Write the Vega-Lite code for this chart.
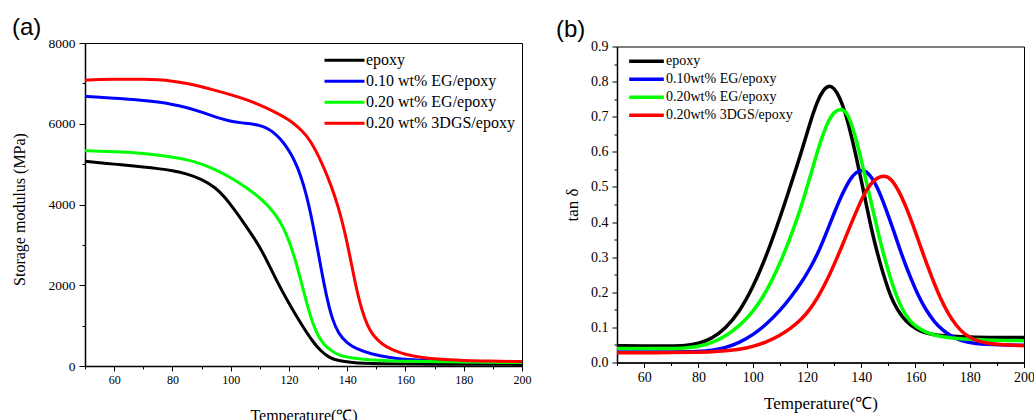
{
  "$schema": "https://vega.github.io/schema/vega-lite/v6.json",
  "background": "white",
  "padding": {"left": 10, "top": 15, "right": 5, "bottom": 0},
  "bounds": "flush",
  "center": true,
  "spacing": 95,
  "config": {
    "view": {"stroke": "black", "strokeWidth": 1},
    "axis": {
      "grid": false,
      "domainColor": "black",
      "domainWidth": 1.5,
      "tickColor": "black",
      "tickWidth": 1,
      "labelColor": "black",
      "titleColor": "black",
      "labelFont": "Liberation Serif",
      "titleFont": "Liberation Serif",
      "titleFontWeight": "normal",
      "labelFlush": false,
      "labelOverlap": false
    },
    "legend": {"labelFont": "Liberation Serif", "labelColor": "black"}
  },
  "resolve": {"scale": {"color": "independent", "x": "independent", "y": "independent"}},
  "hconcat": [
    {
      "width": 437,
      "height": 323,
      "title": {"text": "(a)", "anchor": "start", "frame": "group", "offset": -23, "baseline": "alphabetic", "dx": -73, "font": "Liberation Sans", "fontSize": 24, "fontWeight": "normal", "color": "black"},
      "data": {"values": [
        {"s": "epoxy", "t": 50, "v": 5070}, {"s": "epoxy", "t": 55, "v": 5035}, {"s": "epoxy", "t": 60, "v": 5000}, {"s": "epoxy", "t": 65, "v": 4965}, {"s": "epoxy", "t": 70, "v": 4930}, {"s": "epoxy", "t": 75, "v": 4890}, {"s": "epoxy", "t": 80, "v": 4840}, {"s": "epoxy", "t": 85, "v": 4760}, {"s": "epoxy", "t": 90, "v": 4630}, {"s": "epoxy", "t": 95, "v": 4410}, {"s": "epoxy", "t": 98, "v": 4180}, {"s": "epoxy", "t": 101, "v": 3900}, {"s": "epoxy", "t": 104, "v": 3600}, {"s": "epoxy", "t": 107, "v": 3280}, {"s": "epoxy", "t": 110, "v": 2950}, {"s": "epoxy", "t": 113, "v": 2530}, {"s": "epoxy", "t": 116, "v": 2080}, {"s": "epoxy", "t": 119, "v": 1680}, {"s": "epoxy", "t": 122, "v": 1300}, {"s": "epoxy", "t": 125, "v": 950}, {"s": "epoxy", "t": 128, "v": 620}, {"s": "epoxy", "t": 131, "v": 360}, {"s": "epoxy", "t": 134, "v": 200}, {"s": "epoxy", "t": 137, "v": 130}, {"s": "epoxy", "t": 141, "v": 85}, {"s": "epoxy", "t": 150, "v": 55}, {"s": "epoxy", "t": 170, "v": 45}, {"s": "epoxy", "t": 200, "v": 40},
        {"s": "0.10 wt% EG/epoxy", "t": 50, "v": 6680}, {"s": "0.10 wt% EG/epoxy", "t": 55, "v": 6655}, {"s": "0.10 wt% EG/epoxy", "t": 60, "v": 6630}, {"s": "0.10 wt% EG/epoxy", "t": 65, "v": 6610}, {"s": "0.10 wt% EG/epoxy", "t": 70, "v": 6580}, {"s": "0.10 wt% EG/epoxy", "t": 75, "v": 6540}, {"s": "0.10 wt% EG/epoxy", "t": 80, "v": 6480}, {"s": "0.10 wt% EG/epoxy", "t": 85, "v": 6400}, {"s": "0.10 wt% EG/epoxy", "t": 90, "v": 6290}, {"s": "0.10 wt% EG/epoxy", "t": 95, "v": 6160}, {"s": "0.10 wt% EG/epoxy", "t": 100, "v": 6060}, {"s": "0.10 wt% EG/epoxy", "t": 104, "v": 6020}, {"s": "0.10 wt% EG/epoxy", "t": 108, "v": 5990}, {"s": "0.10 wt% EG/epoxy", "t": 111, "v": 5940}, {"s": "0.10 wt% EG/epoxy", "t": 113, "v": 5870}, {"s": "0.10 wt% EG/epoxy", "t": 115, "v": 5770}, {"s": "0.10 wt% EG/epoxy", "t": 117, "v": 5630}, {"s": "0.10 wt% EG/epoxy", "t": 119, "v": 5450}, {"s": "0.10 wt% EG/epoxy", "t": 121, "v": 5220}, {"s": "0.10 wt% EG/epoxy", "t": 123, "v": 4920}, {"s": "0.10 wt% EG/epoxy", "t": 125, "v": 4500}, {"s": "0.10 wt% EG/epoxy", "t": 127, "v": 3950}, {"s": "0.10 wt% EG/epoxy", "t": 129, "v": 3220}, {"s": "0.10 wt% EG/epoxy", "t": 131, "v": 2430}, {"s": "0.10 wt% EG/epoxy", "t": 133, "v": 1680}, {"s": "0.10 wt% EG/epoxy", "t": 135, "v": 1130}, {"s": "0.10 wt% EG/epoxy", "t": 137, "v": 800}, {"s": "0.10 wt% EG/epoxy", "t": 140, "v": 560}, {"s": "0.10 wt% EG/epoxy", "t": 143, "v": 430}, {"s": "0.10 wt% EG/epoxy", "t": 148, "v": 300}, {"s": "0.10 wt% EG/epoxy", "t": 155, "v": 200}, {"s": "0.10 wt% EG/epoxy", "t": 160, "v": 160}, {"s": "0.10 wt% EG/epoxy", "t": 170, "v": 125}, {"s": "0.10 wt% EG/epoxy", "t": 180, "v": 105}, {"s": "0.10 wt% EG/epoxy", "t": 200, "v": 90},
        {"s": "0.20 wt% EG/epoxy", "t": 50, "v": 5330}, {"s": "0.20 wt% EG/epoxy", "t": 55, "v": 5320}, {"s": "0.20 wt% EG/epoxy", "t": 60, "v": 5310}, {"s": "0.20 wt% EG/epoxy", "t": 70, "v": 5270}, {"s": "0.20 wt% EG/epoxy", "t": 80, "v": 5180}, {"s": "0.20 wt% EG/epoxy", "t": 85, "v": 5110}, {"s": "0.20 wt% EG/epoxy", "t": 90, "v": 5010}, {"s": "0.20 wt% EG/epoxy", "t": 95, "v": 4860}, {"s": "0.20 wt% EG/epoxy", "t": 100, "v": 4670}, {"s": "0.20 wt% EG/epoxy", "t": 105, "v": 4440}, {"s": "0.20 wt% EG/epoxy", "t": 110, "v": 4170}, {"s": "0.20 wt% EG/epoxy", "t": 113, "v": 3960}, {"s": "0.20 wt% EG/epoxy", "t": 116, "v": 3690}, {"s": "0.20 wt% EG/epoxy", "t": 118, "v": 3440}, {"s": "0.20 wt% EG/epoxy", "t": 120, "v": 3110}, {"s": "0.20 wt% EG/epoxy", "t": 122, "v": 2680}, {"s": "0.20 wt% EG/epoxy", "t": 124, "v": 2150}, {"s": "0.20 wt% EG/epoxy", "t": 126, "v": 1580}, {"s": "0.20 wt% EG/epoxy", "t": 128, "v": 1080}, {"s": "0.20 wt% EG/epoxy", "t": 130, "v": 740}, {"s": "0.20 wt% EG/epoxy", "t": 132, "v": 530}, {"s": "0.20 wt% EG/epoxy", "t": 134.5, "v": 380}, {"s": "0.20 wt% EG/epoxy", "t": 137, "v": 270}, {"s": "0.20 wt% EG/epoxy", "t": 141, "v": 195}, {"s": "0.20 wt% EG/epoxy", "t": 150, "v": 140}, {"s": "0.20 wt% EG/epoxy", "t": 160, "v": 115}, {"s": "0.20 wt% EG/epoxy", "t": 180, "v": 95}, {"s": "0.20 wt% EG/epoxy", "t": 200, "v": 85},
        {"s": "0.20 wt% 3DGS/epoxy", "t": 50, "v": 7080}, {"s": "0.20 wt% 3DGS/epoxy", "t": 55, "v": 7095}, {"s": "0.20 wt% 3DGS/epoxy", "t": 60, "v": 7100}, {"s": "0.20 wt% 3DGS/epoxy", "t": 65, "v": 7105}, {"s": "0.20 wt% 3DGS/epoxy", "t": 70, "v": 7105}, {"s": "0.20 wt% 3DGS/epoxy", "t": 75, "v": 7090}, {"s": "0.20 wt% 3DGS/epoxy", "t": 80, "v": 7060}, {"s": "0.20 wt% 3DGS/epoxy", "t": 85, "v": 7000}, {"s": "0.20 wt% 3DGS/epoxy", "t": 90, "v": 6920}, {"s": "0.20 wt% 3DGS/epoxy", "t": 95, "v": 6820}, {"s": "0.20 wt% 3DGS/epoxy", "t": 100, "v": 6720}, {"s": "0.20 wt% 3DGS/epoxy", "t": 104, "v": 6630}, {"s": "0.20 wt% 3DGS/epoxy", "t": 108, "v": 6530}, {"s": "0.20 wt% 3DGS/epoxy", "t": 112, "v": 6400}, {"s": "0.20 wt% 3DGS/epoxy", "t": 116, "v": 6260}, {"s": "0.20 wt% 3DGS/epoxy", "t": 120, "v": 6100}, {"s": "0.20 wt% 3DGS/epoxy", "t": 123, "v": 5930}, {"s": "0.20 wt% 3DGS/epoxy", "t": 126, "v": 5720}, {"s": "0.20 wt% 3DGS/epoxy", "t": 129, "v": 5380}, {"s": "0.20 wt% 3DGS/epoxy", "t": 132, "v": 4920}, {"s": "0.20 wt% 3DGS/epoxy", "t": 134.5, "v": 4470}, {"s": "0.20 wt% 3DGS/epoxy", "t": 137, "v": 3930}, {"s": "0.20 wt% 3DGS/epoxy", "t": 139, "v": 3380}, {"s": "0.20 wt% 3DGS/epoxy", "t": 141, "v": 2700}, {"s": "0.20 wt% 3DGS/epoxy", "t": 143, "v": 1960}, {"s": "0.20 wt% 3DGS/epoxy", "t": 145, "v": 1380}, {"s": "0.20 wt% 3DGS/epoxy", "t": 147, "v": 990}, {"s": "0.20 wt% 3DGS/epoxy", "t": 149, "v": 740}, {"s": "0.20 wt% 3DGS/epoxy", "t": 152, "v": 540}, {"s": "0.20 wt% 3DGS/epoxy", "t": 155, "v": 410}, {"s": "0.20 wt% 3DGS/epoxy", "t": 160, "v": 280}, {"s": "0.20 wt% 3DGS/epoxy", "t": 165, "v": 210}, {"s": "0.20 wt% 3DGS/epoxy", "t": 175, "v": 150}, {"s": "0.20 wt% 3DGS/epoxy", "t": 185, "v": 125}, {"s": "0.20 wt% 3DGS/epoxy", "t": 200, "v": 110}
      ]},
      "mark": {"type": "line", "strokeWidth": 3, "interpolate": "basis"},
      "encoding": {
        "x": {
          "field": "t", "type": "quantitative",
          "scale": {"domain": [50, 200], "nice": false, "zero": false},
          "axis": {
            "title": "Temperature(℃)",
            "values": [50, 60, 70, 80, 90, 100, 110, 120, 130, 140, 150, 160, 170, 180, 190, 200],
            "format": "d",
            "labelExpr": "datum.value % 20 === 0 ? datum.label : ''",
            "tickSize": {"condition": {"test": "datum.value % 20 === 0", "value": 5}, "value": 3},
            "labelFontSize": 12,
            "labelPadding": 3,
            "titleFontSize": 16,
            "titleY": 41
          }
        },
        "y": {
          "field": "v", "type": "quantitative",
          "scale": {"domain": [0, 8000], "nice": false},
          "axis": {
            "title": "Storage modulus (MPa)",
            "values": [0, 1000, 2000, 3000, 4000, 5000, 6000, 7000, 8000],
            "format": "d",
            "labelExpr": "datum.value % 2000 === 0 ? datum.label : ''",
            "tickSize": {"condition": {"test": "datum.value % 2000 === 0", "value": 6}, "value": 3},
            "labelFontSize": 13.5,
            "labelPadding": 4,
            "titleFontSize": 16,
            "titleX": -58,
            "titleY": 166
          }
        },
        "color": {
          "field": "s", "type": "nominal",
          "scale": {"domain": ["epoxy", "0.10 wt% EG/epoxy", "0.20 wt% EG/epoxy", "0.20 wt% 3DGS/epoxy"], "range": ["#000000", "#0000ff", "#00ff00", "#ff0000"]},
          "legend": {
            "title": null, "orient": "none", "legendX": 238, "legendY": 7,
            "symbolType": "stroke", "symbolSize": 1600, "symbolStrokeWidth": 3,
            "labelFontSize": 16, "labelOffset": 0, "clipHeight": 20.5, "rowPadding": 0, "padding": 0
          }
        }
      }
    },
    {
      "width": 407,
      "height": 316,
      "title": {"text": "(b)", "anchor": "start", "frame": "group", "offset": -21, "baseline": "alphabetic", "dx": -61, "font": "Liberation Sans", "fontSize": 24, "fontWeight": "normal", "color": "black"},
      "data": {"values": [
        {"s": "epoxy", "t": 50, "v": 0.048}, {"s": "epoxy", "t": 60, "v": 0.047}, {"s": "epoxy", "t": 70, "v": 0.047}, {"s": "epoxy", "t": 75, "v": 0.048}, {"s": "epoxy", "t": 80, "v": 0.053}, {"s": "epoxy", "t": 85, "v": 0.068}, {"s": "epoxy", "t": 90, "v": 0.097}, {"s": "epoxy", "t": 95, "v": 0.143}, {"s": "epoxy", "t": 100, "v": 0.212}, {"s": "epoxy", "t": 105, "v": 0.302}, {"s": "epoxy", "t": 110, "v": 0.41}, {"s": "epoxy", "t": 114, "v": 0.505}, {"s": "epoxy", "t": 118, "v": 0.6}, {"s": "epoxy", "t": 121, "v": 0.68}, {"s": "epoxy", "t": 124, "v": 0.748}, {"s": "epoxy", "t": 126, "v": 0.776}, {"s": "epoxy", "t": 128, "v": 0.79}, {"s": "epoxy", "t": 130, "v": 0.782}, {"s": "epoxy", "t": 132, "v": 0.757}, {"s": "epoxy", "t": 134, "v": 0.715}, {"s": "epoxy", "t": 136, "v": 0.658}, {"s": "epoxy", "t": 138, "v": 0.592}, {"s": "epoxy", "t": 140, "v": 0.52}, {"s": "epoxy", "t": 142, "v": 0.445}, {"s": "epoxy", "t": 144, "v": 0.372}, {"s": "epoxy", "t": 146, "v": 0.31}, {"s": "epoxy", "t": 148, "v": 0.255}, {"s": "epoxy", "t": 150, "v": 0.207}, {"s": "epoxy", "t": 152, "v": 0.168}, {"s": "epoxy", "t": 155, "v": 0.13}, {"s": "epoxy", "t": 158, "v": 0.106}, {"s": "epoxy", "t": 162, "v": 0.088}, {"s": "epoxy", "t": 166, "v": 0.08}, {"s": "epoxy", "t": 170, "v": 0.076}, {"s": "epoxy", "t": 180, "v": 0.072}, {"s": "epoxy", "t": 190, "v": 0.071}, {"s": "epoxy", "t": 200, "v": 0.071},
        {"s": "0.10wt% EG/epoxy", "t": 50, "v": 0.03}, {"s": "0.10wt% EG/epoxy", "t": 60, "v": 0.03}, {"s": "0.10wt% EG/epoxy", "t": 70, "v": 0.03}, {"s": "0.10wt% EG/epoxy", "t": 80, "v": 0.031}, {"s": "0.10wt% EG/epoxy", "t": 85, "v": 0.034}, {"s": "0.10wt% EG/epoxy", "t": 90, "v": 0.042}, {"s": "0.10wt% EG/epoxy", "t": 95, "v": 0.056}, {"s": "0.10wt% EG/epoxy", "t": 100, "v": 0.078}, {"s": "0.10wt% EG/epoxy", "t": 105, "v": 0.108}, {"s": "0.10wt% EG/epoxy", "t": 110, "v": 0.147}, {"s": "0.10wt% EG/epoxy", "t": 114, "v": 0.185}, {"s": "0.10wt% EG/epoxy", "t": 118, "v": 0.228}, {"s": "0.10wt% EG/epoxy", "t": 121, "v": 0.266}, {"s": "0.10wt% EG/epoxy", "t": 124, "v": 0.31}, {"s": "0.10wt% EG/epoxy", "t": 127, "v": 0.366}, {"s": "0.10wt% EG/epoxy", "t": 130, "v": 0.425}, {"s": "0.10wt% EG/epoxy", "t": 133, "v": 0.48}, {"s": "0.10wt% EG/epoxy", "t": 136, "v": 0.524}, {"s": "0.10wt% EG/epoxy", "t": 138, "v": 0.542}, {"s": "0.10wt% EG/epoxy", "t": 140.5, "v": 0.55}, {"s": "0.10wt% EG/epoxy", "t": 143, "v": 0.538}, {"s": "0.10wt% EG/epoxy", "t": 146, "v": 0.5}, {"s": "0.10wt% EG/epoxy", "t": 149, "v": 0.44}, {"s": "0.10wt% EG/epoxy", "t": 152, "v": 0.375}, {"s": "0.10wt% EG/epoxy", "t": 155, "v": 0.305}, {"s": "0.10wt% EG/epoxy", "t": 158, "v": 0.245}, {"s": "0.10wt% EG/epoxy", "t": 161, "v": 0.19}, {"s": "0.10wt% EG/epoxy", "t": 164, "v": 0.148}, {"s": "0.10wt% EG/epoxy", "t": 167, "v": 0.115}, {"s": "0.10wt% EG/epoxy", "t": 170, "v": 0.092}, {"s": "0.10wt% EG/epoxy", "t": 174, "v": 0.07}, {"s": "0.10wt% EG/epoxy", "t": 179, "v": 0.057}, {"s": "0.10wt% EG/epoxy", "t": 185, "v": 0.051}, {"s": "0.10wt% EG/epoxy", "t": 200, "v": 0.049},
        {"s": "0.20wt% EG/epoxy", "t": 50, "v": 0.04}, {"s": "0.20wt% EG/epoxy", "t": 60, "v": 0.04}, {"s": "0.20wt% EG/epoxy", "t": 70, "v": 0.04}, {"s": "0.20wt% EG/epoxy", "t": 75, "v": 0.041}, {"s": "0.20wt% EG/epoxy", "t": 80, "v": 0.045}, {"s": "0.20wt% EG/epoxy", "t": 85, "v": 0.056}, {"s": "0.20wt% EG/epoxy", "t": 90, "v": 0.075}, {"s": "0.20wt% EG/epoxy", "t": 95, "v": 0.103}, {"s": "0.20wt% EG/epoxy", "t": 100, "v": 0.143}, {"s": "0.20wt% EG/epoxy", "t": 105, "v": 0.2}, {"s": "0.20wt% EG/epoxy", "t": 110, "v": 0.28}, {"s": "0.20wt% EG/epoxy", "t": 114, "v": 0.358}, {"s": "0.20wt% EG/epoxy", "t": 118, "v": 0.445}, {"s": "0.20wt% EG/epoxy", "t": 121, "v": 0.525}, {"s": "0.20wt% EG/epoxy", "t": 124, "v": 0.605}, {"s": "0.20wt% EG/epoxy", "t": 126, "v": 0.652}, {"s": "0.20wt% EG/epoxy", "t": 128, "v": 0.69}, {"s": "0.20wt% EG/epoxy", "t": 130, "v": 0.714}, {"s": "0.20wt% EG/epoxy", "t": 132.5, "v": 0.724}, {"s": "0.20wt% EG/epoxy", "t": 134.5, "v": 0.714}, {"s": "0.20wt% EG/epoxy", "t": 136, "v": 0.69}, {"s": "0.20wt% EG/epoxy", "t": 138, "v": 0.64}, {"s": "0.20wt% EG/epoxy", "t": 140, "v": 0.578}, {"s": "0.20wt% EG/epoxy", "t": 142, "v": 0.512}, {"s": "0.20wt% EG/epoxy", "t": 144, "v": 0.445}, {"s": "0.20wt% EG/epoxy", "t": 146, "v": 0.378}, {"s": "0.20wt% EG/epoxy", "t": 148, "v": 0.315}, {"s": "0.20wt% EG/epoxy", "t": 150, "v": 0.26}, {"s": "0.20wt% EG/epoxy", "t": 152, "v": 0.21}, {"s": "0.20wt% EG/epoxy", "t": 154, "v": 0.17}, {"s": "0.20wt% EG/epoxy", "t": 156, "v": 0.14}, {"s": "0.20wt% EG/epoxy", "t": 158, "v": 0.118}, {"s": "0.20wt% EG/epoxy", "t": 160, "v": 0.103}, {"s": "0.20wt% EG/epoxy", "t": 164, "v": 0.085}, {"s": "0.20wt% EG/epoxy", "t": 168, "v": 0.075}, {"s": "0.20wt% EG/epoxy", "t": 175, "v": 0.068}, {"s": "0.20wt% EG/epoxy", "t": 185, "v": 0.064}, {"s": "0.20wt% EG/epoxy", "t": 200, "v": 0.062},
        {"s": "0.20wt% 3DGS/epoxy", "t": 50, "v": 0.028}, {"s": "0.20wt% 3DGS/epoxy", "t": 60, "v": 0.028}, {"s": "0.20wt% 3DGS/epoxy", "t": 70, "v": 0.028}, {"s": "0.20wt% 3DGS/epoxy", "t": 80, "v": 0.029}, {"s": "0.20wt% 3DGS/epoxy", "t": 85, "v": 0.03}, {"s": "0.20wt% 3DGS/epoxy", "t": 90, "v": 0.033}, {"s": "0.20wt% 3DGS/epoxy", "t": 95, "v": 0.037}, {"s": "0.20wt% 3DGS/epoxy", "t": 100, "v": 0.045}, {"s": "0.20wt% 3DGS/epoxy", "t": 105, "v": 0.058}, {"s": "0.20wt% 3DGS/epoxy", "t": 110, "v": 0.077}, {"s": "0.20wt% 3DGS/epoxy", "t": 114, "v": 0.097}, {"s": "0.20wt% 3DGS/epoxy", "t": 118, "v": 0.123}, {"s": "0.20wt% 3DGS/epoxy", "t": 121, "v": 0.15}, {"s": "0.20wt% 3DGS/epoxy", "t": 124, "v": 0.185}, {"s": "0.20wt% 3DGS/epoxy", "t": 127, "v": 0.228}, {"s": "0.20wt% 3DGS/epoxy", "t": 130, "v": 0.278}, {"s": "0.20wt% 3DGS/epoxy", "t": 133, "v": 0.333}, {"s": "0.20wt% 3DGS/epoxy", "t": 136, "v": 0.39}, {"s": "0.20wt% 3DGS/epoxy", "t": 139, "v": 0.445}, {"s": "0.20wt% 3DGS/epoxy", "t": 142, "v": 0.494}, {"s": "0.20wt% 3DGS/epoxy", "t": 145, "v": 0.523}, {"s": "0.20wt% 3DGS/epoxy", "t": 148.5, "v": 0.534}, {"s": "0.20wt% 3DGS/epoxy", "t": 151, "v": 0.524}, {"s": "0.20wt% 3DGS/epoxy", "t": 154, "v": 0.488}, {"s": "0.20wt% 3DGS/epoxy", "t": 157, "v": 0.435}, {"s": "0.20wt% 3DGS/epoxy", "t": 160, "v": 0.372}, {"s": "0.20wt% 3DGS/epoxy", "t": 163, "v": 0.305}, {"s": "0.20wt% 3DGS/epoxy", "t": 166, "v": 0.243}, {"s": "0.20wt% 3DGS/epoxy", "t": 169, "v": 0.185}, {"s": "0.20wt% 3DGS/epoxy", "t": 172, "v": 0.14}, {"s": "0.20wt% 3DGS/epoxy", "t": 175, "v": 0.105}, {"s": "0.20wt% 3DGS/epoxy", "t": 178, "v": 0.08}, {"s": "0.20wt% 3DGS/epoxy", "t": 182, "v": 0.063}, {"s": "0.20wt% 3DGS/epoxy", "t": 186, "v": 0.055}, {"s": "0.20wt% 3DGS/epoxy", "t": 192, "v": 0.05}, {"s": "0.20wt% 3DGS/epoxy", "t": 200, "v": 0.048}
      ]},
      "mark": {"type": "line", "strokeWidth": 3.5, "interpolate": "basis"},
      "encoding": {
        "x": {
          "field": "t", "type": "quantitative",
          "scale": {"domain": [50, 200], "nice": false, "zero": false},
          "axis": {
            "title": "Temperature(℃)",
            "values": [50, 60, 70, 80, 90, 100, 110, 120, 130, 140, 150, 160, 170, 180, 190, 200],
            "format": "d",
            "labelExpr": "datum.value % 20 === 0 ? datum.label : ''",
            "tickSize": {"condition": {"test": "datum.value % 20 === 0", "value": 5}, "value": 3},
            "labelFontSize": 14,
            "labelPadding": 3,
            "titleFontSize": 17,
            "titleY": 33
          }
        },
        "y": {
          "field": "v", "type": "quantitative",
          "scale": {"domain": [0, 0.9], "nice": false},
          "axis": {
            "title": "tan δ",
            "values": [0, 0.05, 0.1, 0.15, 0.2, 0.25, 0.3, 0.35, 0.4, 0.45, 0.5, 0.55, 0.6, 0.65, 0.7, 0.75, 0.8, 0.85, 0.9],
            "format": ".1f",
            "labelExpr": "round(datum.value * 100) % 10 === 0 ? datum.label : ''",
            "tickSize": {"condition": {"test": "round(datum.value * 100) % 10 === 0", "value": 5}, "value": 3},
            "labelFontSize": 14,
            "labelPadding": 4,
            "titleFontSize": 17,
            "titleX": -36
          }
        },
        "color": {
          "field": "s", "type": "nominal",
          "scale": {"domain": ["epoxy", "0.10wt% EG/epoxy", "0.20wt% EG/epoxy", "0.20wt% 3DGS/epoxy"], "range": ["#000000", "#0000ff", "#00ff00", "#ff0000"]},
          "legend": {
            "title": null, "orient": "none", "legendX": 10, "legendY": 6,
            "symbolType": "stroke", "symbolSize": 1200, "symbolStrokeWidth": 3.5,
            "labelFontSize": 14, "labelOffset": 0, "clipHeight": 17.5, "rowPadding": 0, "padding": 0
          }
        }
      }
    }
  ]
}
